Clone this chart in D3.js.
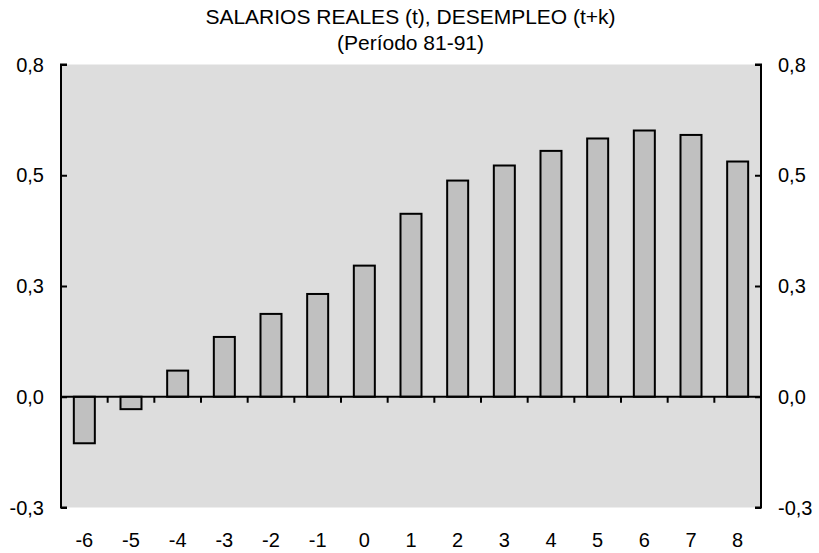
<!DOCTYPE html>
<html><head><meta charset="utf-8">
<script src="https://cdn.jsdelivr.net/npm/d3@7"></script>
<style>body{margin:0;background:#fff}svg{display:block}text{font-family:"Liberation Sans",Arial,sans-serif;fill:#000}</style>
</head><body>
<script>
const categories = ["-6","-5","-4","-3","-2","-1","0","1","2","3","4","5","6","7","8"];
const values = [-0.105,-0.028,0.059,0.135,0.187,0.232,0.296,0.413,0.488,0.522,0.555,0.583,0.601,0.591,0.531];
const yTicks = [-0.25,0,0.25,0.5,0.75];
const yTickLabels = ["-0,3","0,0","0,3","0,5","0,8"];
const titleLines = ["SALARIOS REALES (t), DESEMPLEO (t+k)","(Período 81-91)"];

const W=819,H=553;
const m={left:61,right:58,top:64.5,bottom:45.5};
const svg=d3.select("body").append("svg").attr("width",W).attr("height",H);
const x=d3.scaleBand().domain(categories).range([m.left,W-m.right]).paddingInner(0.55).paddingOuter(0.275);
const xb=d3.scaleBand().domain(categories).range([m.left,W-m.right]);
const y=d3.scaleLinear().domain([-0.25,0.75]).range([H-m.bottom,m.top]);

svg.append("rect").attr("x",m.left).attr("y",m.top).attr("width",W-m.left-m.right).attr("height",H-m.top-m.bottom).attr("fill","#dddddd");

svg.selectAll("rect.bar").data(values).join("rect").attr("class","bar")
 .attr("x",(d,i)=>x(categories[i])).attr("width",x.bandwidth())
 .attr("y",d=>y(Math.max(0,d))).attr("height",d=>Math.abs(y(d)-y(0)))
 .attr("fill","#c0c0c0").attr("stroke","#000").attr("stroke-width",2);

const fmt=(d)=>yTickLabels[yTicks.indexOf(d)];
const gl=svg.append("g").attr("transform",`translate(${m.left},0)`)
 .call(d3.axisRight(y).tickValues(yTicks).tickSize(6).tickFormat(""));
gl.select(".domain").attr("d",`M6,${y(0.75)}H0V${y(-0.25)}H6`).attr("stroke","#000").attr("stroke-width",2);
gl.selectAll(".tick line").attr("stroke","#000").attr("stroke-width",2);
svg.append("g").selectAll("text").data(yTicks).join("text")
 .attr("x",44).attr("y",d=>y(d)).attr("dy","0.35em").attr("text-anchor","end")
 .attr("font-size",20).text(fmt);
const gr=svg.append("g").attr("transform",`translate(${W-m.right},0)`)
 .call(d3.axisLeft(y).tickValues(yTicks).tickSize(6).tickFormat(""));
gr.select(".domain").attr("d",`M-6,${y(0.75)}H0V${y(-0.25)}H-6`).attr("stroke","#000").attr("stroke-width",2);
gr.selectAll(".tick line").attr("stroke","#000").attr("stroke-width",2);
svg.append("g").selectAll("text").data(yTicks).join("text")
 .attr("x",778).attr("y",d=>y(d)).attr("dy","0.35em").attr("text-anchor","start")
 .attr("font-size",20).text(fmt);

svg.append("line").attr("x1",m.left).attr("x2",W-m.right).attr("y1",y(0)).attr("y2",y(0)).attr("stroke","#000").attr("stroke-width",2);
svg.append("g").selectAll("line").data(categories.slice(1)).join("line")
 .attr("x1",d=>xb(d)).attr("x2",d=>xb(d)).attr("y1",y(0)).attr("y2",y(0)+6)
 .attr("stroke","#000").attr("stroke-width",2);

svg.append("g").selectAll("text").data(categories).join("text")
 .attr("x",d=>xb(d)+xb.bandwidth()/2).attr("y",547).attr("text-anchor","middle")
 .attr("font-size",20).text(d=>d);

svg.append("g").selectAll("text").data(titleLines).join("text")
 .attr("x",410.5).attr("y",(d,i)=>24+i*26).attr("text-anchor","middle").attr("font-size",21).text(d=>d);
</script>
</body></html>
